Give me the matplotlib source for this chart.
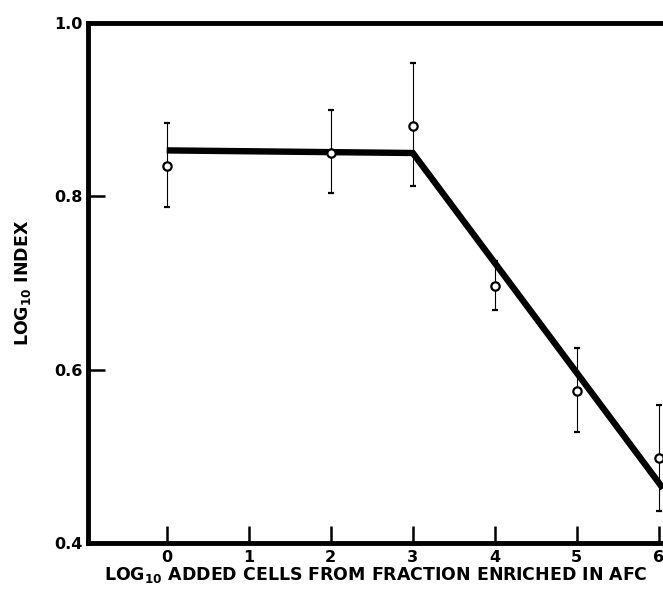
import matplotlib.pyplot as plt
import numpy as np

# data
x_dosis = [0, 2, 3, 4, 5, 6]
y_indice = [0.835, 0.850, 0.881, 0.696, 0.575, 0.498]
err_sup = [0.885, 0.900, 0.954, 0.725, 0.625, 0.559]
err_inf = [0.788, 0.804, 0.812, 0.669, 0.528, 0.437]

# fitted line (plateau then decline)
x_ajuste = [0, 3, 6.05]
y_ajuste = [0.853, 0.850, 0.463]

xticks = [0, 1, 2, 3, 4, 5, 6]
yticks = [0.4, 0.6, 0.8, 1.0]
ytick_labels = ['0.4', '0.6', '0.8', '1.0']

plt.rcParams['font.family'] = ['DejaVu Sans']
plt.rcParams['font.weight'] = 'bold'

fig = plt.figure(figsize=(6.63, 5.96), dpi=100)
ax = fig.add_axes([88/663, 1-543/596, (663-88)/663, (543-23)/596])

yi = np.array(y_indice)
yerr = [yi - np.array(err_inf), np.array(err_sup) - yi]

ax.plot(x_ajuste, y_ajuste, color='black', lw=4.6, solid_capstyle='butt',
        solid_joinstyle='miter', zorder=2)
ax.errorbar(x_dosis, y_indice, yerr=yerr, fmt='o', mfc='white', mec='black',
            mew=1.6, ms=6, ecolor='black', elinewidth=0.8, capsize=2.5,
            capthick=0.8, zorder=3)

ax.set_xlim(-0.96, 6.05)
ax.set_ylim(0.4, 1.0)

ax.set_xticks(xticks)
ax.set_xticklabels([str(t) for t in xticks])
ax.set_yticks(yticks)
ax.set_yticklabels(ytick_labels)

ax.tick_params(direction='in', length=12, width=1.8, labelsize=11.5)
ax.tick_params(axis='y', pad=4)
ax.tick_params(axis='x', pad=5)

for s in ['left', 'bottom', 'top']:
    ax.spines[s].set_linewidth(3.5)
ax.spines['right'].set_visible(False)

ax.set_xlabel(r'LOG$_{\mathbf{10}}$ ADDED CELLS FROM FRACTION ENRICHED IN AFC',
              fontsize=12.5, fontweight='bold', labelpad=0)
ax.set_ylabel(r'LOG$_{\mathbf{10}}$ INDEX', fontsize=12.5, fontweight='bold',
              labelpad=15)

fig.savefig('out.png', dpi=100)
